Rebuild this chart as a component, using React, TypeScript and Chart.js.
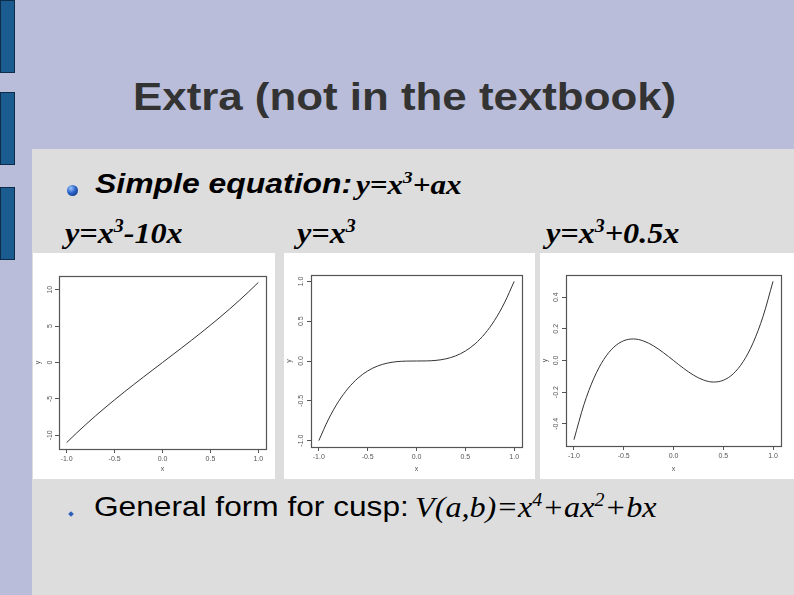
import React, { useEffect, useRef } from "react";
import { Chart, registerables } from "chart.js";

Chart.register(...registerables);

// ---- data ----
const xValues = [-1.0, -0.9, -0.8, -0.7, -0.6, -0.5, -0.4, -0.3, -0.2, -0.1, 0.0, 0.1, 0.2, 0.3, 0.4, 0.5, 0.6, 0.7, 0.8, 0.9, 1.0];
const yPlot1 = [-11, -9.729, -8.512, -7.343, -6.216, -5.125, -4.064, -3.027, -2.008, -1.001, 0, 1.001, 2.008, 3.027, 4.064, 5.125, 6.216, 7.343, 8.512, 9.729, 11];
const yPlot2 = [-1, -0.729, -0.512, -0.343, -0.216, -0.125, -0.064, -0.027, -0.008, -0.001, 0, 0.001, 0.008, 0.027, 0.064, 0.125, 0.216, 0.343, 0.512, 0.729, 1];
const yPlot3 = [-0.5, -0.279, -0.112, 0.007, 0.084, 0.125, 0.136, 0.123, 0.092, 0.049, 0, -0.049, -0.092, -0.123, -0.136, -0.125, -0.084, -0.007, 0.112, 0.279, 0.5];

const xTickValues = [-1.0, -0.5, 0.0, 0.5, 1.0];
const yTicks1 = [-10, -5, 0, 5, 10];
const yTicks2 = [-1.0, -0.5, 0.0, 0.5, 1.0];
const yTicks3 = [-0.4, -0.2, 0.0, 0.2, 0.4];

const xRange = [-1.08, 1.08];
const yRange1 = [-11.88, 11.88];
const yRange2 = [-1.08, 1.08];
const yRange3 = [-0.54, 0.54];

type Box = { left: number; right: number; top: number; bottom: number };

type PlotProps = {
  x: number;
  y: number;
  w: number;
  h: number;
  box: Box;
  ys: number[];
  yTicks: number[];
  yRange: number[];
  yDecimals: number;
};

const tickFont = { size: 7, family: "Liberation Sans, Arial, sans-serif" };

function Plot({ x, y, w, h, box, ys, yTicks, yRange, yDecimals }: PlotProps) {
  const ref = useRef<HTMLCanvasElement>(null);
  useEffect(() => {
    if (!ref.current) return;
    const boxPlugin = {
      id: "rbox",
      afterDraw(chart: any) {
        const { ctx, chartArea: a } = chart;
        ctx.save();
        ctx.strokeStyle = "#555";
        ctx.lineWidth = 1.2;
        ctx.strokeRect(Math.round(a.left) + 0.5, Math.round(a.top) + 0.5, Math.round(a.right - a.left), Math.round(a.bottom - a.top));
        ctx.restore();
      },
    };
    const chart = new Chart(ref.current, {
      type: "line",
      data: {
        datasets: [
          {
            data: xValues.map((xv, i) => ({ x: xv, y: ys[i] })),
            borderColor: "#333",
            borderWidth: 1,
            pointRadius: 0,
            cubicInterpolationMode: "monotone",
            fill: false,
          },
        ],
      },
      options: {
        animation: false,
        responsive: false,
        events: [],
        layout: { padding: { top: box.top, right: box.right, left: 0, bottom: 0 } },
        plugins: { legend: { display: false }, tooltip: { enabled: false } },
        scales: {
          x: {
            type: "linear",
            min: xRange[0],
            max: xRange[1],
            afterBuildTicks: (s: any) => {
              s.ticks = xTickValues.map((v) => ({ value: v }));
            },
            afterFit: (s: any) => {
              s.height = box.bottom;
            },
            ticks: {
              autoSkip: false,
              minRotation: 0,
              maxRotation: 0,
              padding: 2,
              font: tickFont,
              color: "#555",
              callback: (v: any) => Number(v).toFixed(1),
            },
            grid: { drawOnChartArea: false, drawTicks: true, tickLength: 4, color: "#555" },
            border: { display: false },
            title: { display: true, text: "x", font: tickFont, color: "#555", padding: { top: 0, bottom: 6 } },
          },
          y: {
            type: "linear",
            min: yRange[0],
            max: yRange[1],
            afterBuildTicks: (s: any) => {
              s.ticks = yTicks.map((v) => ({ value: v }));
            },
            afterFit: (s: any) => {
              s.width = box.left;
            },
            ticks: {
              autoSkip: false,
              minRotation: 90,
              maxRotation: 90,
              crossAlign: "center",
              padding: 0,
              font: tickFont,
              color: "#555",
              callback: (v: any) => Number(v).toFixed(yDecimals),
            },
            grid: { drawOnChartArea: false, drawTicks: true, tickLength: 4, color: "#555" },
            border: { display: false },
            title: { display: true, text: "y", font: tickFont, color: "#555", padding: { top: 1, bottom: 0 } },
          },
        },
      } as any,
      plugins: [boxPlugin],
    });
    return () => chart.destroy();
  }, []);
  return (
    <div style={{ position: "absolute", left: x, top: y, width: w, height: h, background: "#fff" }}>
      <canvas ref={ref} width={w} height={h} style={{ display: "block" }} />
    </div>
  );
}

const stretch = { transform: "scaleX(1.11)", transformOrigin: "left center", whiteSpace: "nowrap" as const, lineHeight: 1, position: "absolute" as const };
const sans = "'Liberation Sans', Arial, sans-serif";
const serif = "'Liberation Serif', 'Times New Roman', serif";
const supStyle = { fontSize: "0.62em", position: "relative" as const, top: "-0.6em" };

export default function App() {
  return (
    <div style={{ position: "fixed", left: 0, top: 0, width: 794, height: 595, overflow: "hidden", background: "#b9bdd9" }}>
      {[0, 92, 187].map((t) => (
        <div key={t} style={{ position: "absolute", left: 0, top: t, width: 13, height: 71, background: "#1a5c8f", border: "1px solid #0c2c48" }} />
      ))}
      <div style={{ position: "absolute", left: 32, top: 149, width: 762, height: 446, background: "#dddddd" }} />

      <div style={{ ...stretch, left: 133, top: 76.6, fontFamily: sans, fontWeight: "bold", fontSize: 39.5, color: "#333333" }}>
        Extra (not in the textbook)
      </div>

      <div style={{ position: "absolute", left: 67, top: 185, width: 11, height: 11, borderRadius: "50%", background: "radial-gradient(circle at 35% 30%, #9cc4ff 0%, #2a63c8 45%, #0b2a6e 100%)" }} />
      <div style={{ ...stretch, transform: "scaleX(1.14)", left: 95, top: 170.3, fontFamily: sans, fontWeight: "bold", fontStyle: "italic", fontSize: 28, color: "#000" }}>
        Simple equation:
      </div>
      <div style={{ ...stretch, left: 356, top: 170.6, fontFamily: serif, fontWeight: "bold", fontStyle: "italic", fontSize: 28, color: "#000" }}>
        y=x<span style={supStyle}>3</span>+ax
      </div>

      <div style={{ ...stretch, left: 65, top: 218.7, fontFamily: serif, fontWeight: "bold", fontStyle: "italic", fontSize: 29, color: "#000" }}>
        y=x<span style={supStyle}>3</span>-10x
      </div>
      <div style={{ ...stretch, left: 297, top: 218.7, fontFamily: serif, fontWeight: "bold", fontStyle: "italic", fontSize: 29, color: "#000" }}>
        y=x<span style={supStyle}>3</span>
      </div>
      <div style={{ ...stretch, left: 546, top: 218.7, fontFamily: serif, fontWeight: "bold", fontStyle: "italic", fontSize: 29, color: "#000" }}>
        y=x<span style={supStyle}>3</span>+0.5x
      </div>

      <Plot x={33} y={253} w={242} h={226} box={{ left: 26, right: 9, top: 23, bottom: 30 }} ys={yPlot1} yTicks={yTicks1} yRange={yRange1} yDecimals={0} />
      <Plot x={284} y={253} w={251} h={226} box={{ left: 27, right: 13, top: 22, bottom: 32 }} ys={yPlot2} yTicks={yTicks2} yRange={yRange2} yDecimals={1} />
      <Plot x={540} y={253} w={254} h={226} box={{ left: 26, right: 13, top: 22, bottom: 33 }} ys={yPlot3} yTicks={yTicks3} yRange={yRange3} yDecimals={1} />

      <div style={{ position: "absolute", left: 69, top: 512, width: 4, height: 4, transform: "rotate(45deg)", background: "#2d5fb8" }} />
      <div style={{ ...stretch, transform: "scaleX(1.13)", left: 94, top: 493.3, fontFamily: sans, fontSize: 28, color: "#000" }}>
        General form for cusp:
      </div>
      <div style={{ ...stretch, left: 415, top: 492.7, fontFamily: serif, fontStyle: "italic", fontSize: 29, color: "#000" }}>
        V(a,b)=x<span style={supStyle}>4</span>+ax<span style={supStyle}>2</span>+bx
      </div>
    </div>
  );
}
